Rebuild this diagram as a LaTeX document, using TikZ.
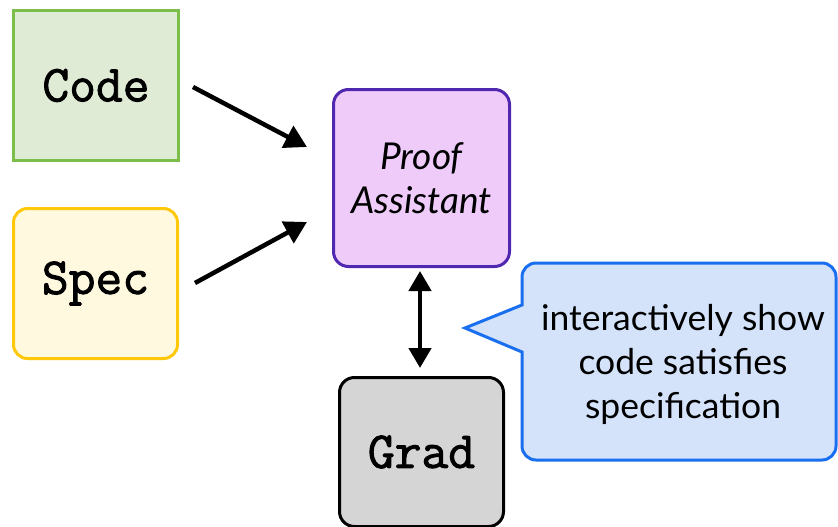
\documentclass[tikz,border=0pt]{standalone}
\usepackage{fontspec}
\setmainfont{Lato}
\newfontfamily\monob[FakeBold=1.8]{Latin Modern Mono}
\usetikzlibrary{arrows.meta}
\definecolor{codeb}{HTML}{7BBF4A}
\definecolor{codef}{HTML}{E0EBD5}
\definecolor{specb}{HTML}{FFC80A}
\definecolor{specf}{HTML}{FFFADF}
\definecolor{proofb}{HTML}{5028B0}
\definecolor{prooff}{HTML}{EFCBFA}
\definecolor{gradb}{HTML}{000000}
\definecolor{gradf}{HTML}{D5D5D5}
\definecolor{callb}{HTML}{1A6FF0}
\definecolor{callf}{HTML}{D4E3FA}
\tikzset{
  box/.style={draw, line width=3pt, inner sep=0pt, anchor=north west},
  monotext/.style={font=\monob\fontsize{52}{56}\selectfont},
  conn/.style={line width=4.5pt, -{Triangle[length=22pt,width=24pt]}},
  dconn/.style={line width=4.5pt, {Triangle[length=20pt,width=22pt]}-{Triangle[length=20pt,width=22pt]}},
}
\begin{document}
\begin{tikzpicture}[x=1pt,y=-1pt]
\useasboundingbox (0,0) rectangle (838,527);
\node[box, draw=codeb, fill=codef, minimum width=165pt, minimum height=150pt, monotext] (code) at (12,9) {Code};
\node[box, draw=specb, fill=specf, rounded corners=14pt, minimum width=164pt, minimum height=150pt, monotext] (spec) at (12,207) {Spec};
\node[box, draw=proofb, fill=prooff, rounded corners=15pt, minimum width=176pt, minimum height=177pt, align=center, font=\itshape\fontsize{37}{44}\selectfont] (proof) at (332,88) {Proof\\Assistant};
\node[box, draw=gradb, fill=gradf, rounded corners=15pt, minimum width=164pt, minimum height=149pt, monotext] (grad) at (338,376) {Grad};
\draw[callb, fill=callf, line width=3pt]
  (522,277) arc[start angle=180, end angle=270, radius=14]
  -- (822,263) arc[start angle=-90, end angle=0, radius=14]
  -- (836,446) arc[start angle=0, end angle=90, radius=14]
  -- (536,460) arc[start angle=90, end angle=180, radius=14]
  -- (522,352) -- (465,328) -- (522,305) -- cycle;
\node[align=center, font=\fontsize{35.5}{44}\selectfont, inner sep=0pt] (call) at (683,364) {interactively show\\code satisfies\\specification};
\coordinate (tip) at (465,328);
\draw[conn] (193,87) -- (307,147);
\draw[conn] (195,283) -- (307,222);
\draw[dconn] (420,271) -- (420,368);
\end{tikzpicture}
\end{document}
